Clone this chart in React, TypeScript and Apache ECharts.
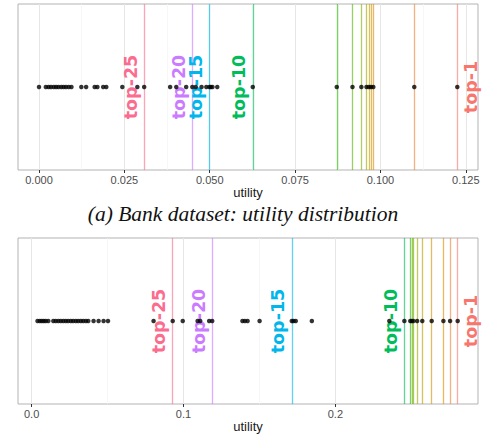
import { useEffect, useRef } from "react";
import * as echarts from "echarts";

// ---- data ----
const bankUtility = [
  0.0, 0.002, 0.0028, 0.0035, 0.0043, 0.005, 0.0057, 0.0065, 0.0072, 0.0079, 0.0087, 0.0095,
  0.0124, 0.0138, 0.0163, 0.0171, 0.0188, 0.0197, 0.0244, 0.0288, 0.0308, 0.0384, 0.0402,
  0.0431, 0.0449, 0.0459, 0.0476, 0.049, 0.0499, 0.0503, 0.0508, 0.0522, 0.0626, 0.0872,
  0.0918, 0.0944, 0.0959, 0.0966, 0.0972, 0.0979, 0.1099, 0.1225,
];
const bankRankValues = [
  0.1225, 0.1099, 0.0979, 0.0972, 0.0966, 0.0959, 0.0944, 0.0918, 0.0872, 0.0626, 0.0499,
  0.0449, 0.0308,
];
const otherUtility = [
  0.0039, 0.0054, 0.0067, 0.008, 0.0093, 0.011, 0.0143, 0.0159, 0.0176, 0.0192, 0.0209,
  0.0225, 0.0241, 0.0258, 0.0274, 0.0291, 0.0307, 0.0324, 0.034, 0.0357, 0.0373, 0.0408,
  0.0441, 0.0474, 0.0503, 0.0803, 0.0929, 0.0995, 0.1093, 0.111, 0.1169, 0.1189, 0.1388,
  0.1404, 0.1422, 0.1501, 0.1713, 0.1724, 0.1739, 0.1845, 0.2355, 0.2454, 0.2493, 0.2503,
  0.2513, 0.2538, 0.2572, 0.2634, 0.2711, 0.2755, 0.2805,
];
const otherRankValues = [
  0.2805, 0.2755, 0.2711, 0.2634, 0.2572, 0.2538, 0.2513, 0.2503, 0.2493, 0.2454, 0.1713,
  0.1189, 0.0929,
];
const rankNames = [
  "top-1", "top-2", "top-3", "top-4", "top-5", "top-6", "top-7", "top-8", "top-9", "top-10",
  "top-15", "top-20", "top-25",
];
const rankColors = [
  "#F8766D", "#EB8335", "#DF8B00", "#CE9500", "#BA9E00", "#A3A500", "#85AD00", "#5EB300",
  "#2AB700", "#00BC5A", "#00B6EB", "#CB7BFF", "#FB6C8E",
];
const labelledRanks = ["top-1", "top-10", "top-15", "top-20", "top-25"];
const bankTicks = [0, 0.025, 0.05, 0.075, 0.1, 0.125];
const bankTickLabels = ["0.000", "0.025", "0.050", "0.075", "0.100", "0.125"];
const bankMinorTicks = [0.0125, 0.0375, 0.0625, 0.0875, 0.1125];
const otherTicks = [0, 0.1, 0.2];
const otherTickLabels = ["0.0", "0.1", "0.2"];
const otherMinorTicks = [0.05, 0.15, 0.25];
const captionA = "(a) Bank dataset: utility distribution";
const axisTitle = "utility";

const SANS = "'Liberation Sans', Arial, Helvetica, sans-serif";

function withAlpha(hex: string, a: number) {
  const r = parseInt(hex.slice(1, 3), 16);
  const g = parseInt(hex.slice(3, 5), 16);
  const b = parseInt(hex.slice(5, 7), 16);
  return `rgba(${r},${g},${b},${a})`;
}

function labelFor(ticks: number[], labels: string[]) {
  return (v: number) => {
    let best = 0;
    for (let i = 1; i < ticks.length; i++) {
      if (Math.abs(ticks[i] - v) < Math.abs(ticks[best] - v)) best = i;
    }
    return labels[best];
  };
}

function makeAxis(gridIndex: number, min: number, max: number, ticks: number[], labels: string[]) {
  return {
    type: "value",
    gridIndex,
    min,
    max,
    name: axisTitle,
    nameLocation: "middle",
    nameGap: 15,
    nameTextStyle: { fontSize: 13, color: "#1A1A1A", fontFamily: SANS },
    axisLine: { show: false },
    axisTick: { show: true, customValues: ticks, length: 3, lineStyle: { color: "#333333", width: 1 } },
    axisLabel: {
      customValues: ticks,
      formatter: labelFor(ticks, labels),
      fontSize: 11,
      color: "#4D4D4D",
      fontFamily: SANS,
      margin: 4,
    },
    splitLine: { show: false },
  };
}

function gridSeries(idx: number, major: number[], minor: number[]) {
  return {
    type: "scatter",
    xAxisIndex: idx,
    yAxisIndex: idx,
    data: [],
    z: 1,
    markLine: {
      silent: true,
      precision: 6,
      symbol: ["none", "none"],
      animation: false,
      label: { show: false },
      data: [
        ...major.map((v) => ({ xAxis: v, lineStyle: { color: "#E6E6E6", width: 1, type: "solid" } })),
        ...minor.map((v) => ({ xAxis: v, lineStyle: { color: "#F3F3F3", width: 0.7, type: "solid" } })),
      ],
    },
  };
}

function rankSeries(idx: number, values: number[]) {
  return {
    type: "scatter",
    xAxisIndex: idx,
    yAxisIndex: idx,
    data: [],
    z: 2,
    markLine: {
      silent: true,
      precision: 6,
      symbol: ["none", "none"],
      animation: false,
      data: values.map((v, i) => ({
        xAxis: v,
        name: rankNames[i],
        lineStyle: { color: withAlpha(rankColors[i], 0.62), width: 1.3, type: "solid" },
        label: {
          show: labelledRanks.includes(rankNames[i]),
          formatter: rankNames[i],
          position: rankNames[i] === "top-1" ? "insideMiddleBottom" : "insideMiddleTop",
          color: rankColors[i],
          fontSize: 17.5,
          fontWeight: "bold",
          fontFamily: "'DejaVu Sans', sans-serif",
          distance: 4.5,
        },
      })),
    },
  };
}

function dotSeries(idx: number, values: number[]) {
  return {
    type: "scatter",
    xAxisIndex: idx,
    yAxisIndex: idx,
    z: 5,
    symbolSize: 4.5,
    itemStyle: { color: "#000000" },
    data: values.map((v) => [v, 0.5]),
  };
}

export default function App() {
  const ref = useRef<HTMLDivElement>(null);
  useEffect(() => {
    if (!ref.current) return;
    const chart = echarts.init(ref.current, null, { renderer: "svg" });
    chart.setOption({
      animation: false,
      backgroundColor: "#FFFFFF",
      grid: [
        { left: 18, top: 4, width: 460, height: 166, show: true, borderColor: "#B3B3B3", borderWidth: 1, backgroundColor: "#FFFFFF" },
        { left: 18, top: 238, width: 460, height: 166, show: true, borderColor: "#B3B3B3", borderWidth: 1, backgroundColor: "#FFFFFF" },
      ],
      xAxis: [
        makeAxis(0, -0.00615, 0.12856, bankTicks, bankTickLabels),
        makeAxis(1, -0.00895, 0.29388, otherTicks, otherTickLabels),
      ],
      yAxis: [
        { type: "value", gridIndex: 0, min: 0, max: 1, show: false },
        { type: "value", gridIndex: 1, min: 0, max: 1, show: false },
      ],
      graphic: [
        {
          type: "text",
          x: 243,
          y: 214,
          style: {
            text: captionA,
            fontFamily: "'Liberation Serif', 'Times New Roman', serif",
            fontStyle: "italic",
            fontSize: 21.5,
            fill: "#111111",
            textAlign: "center",
            textVerticalAlign: "middle",
          },
        },
      ],
      series: [
        gridSeries(0, bankTicks, bankMinorTicks),
        gridSeries(1, otherTicks, otherMinorTicks),
        rankSeries(0, bankRankValues),
        rankSeries(1, otherRankValues),
        dotSeries(0, bankUtility),
        dotSeries(1, otherUtility),
      ],
    });
    return () => chart.dispose();
  }, []);
  return (
    <div
      ref={ref}
      style={{ position: "absolute", left: 0, top: 0, width: 483, height: 434 }}
    />
  );
}
